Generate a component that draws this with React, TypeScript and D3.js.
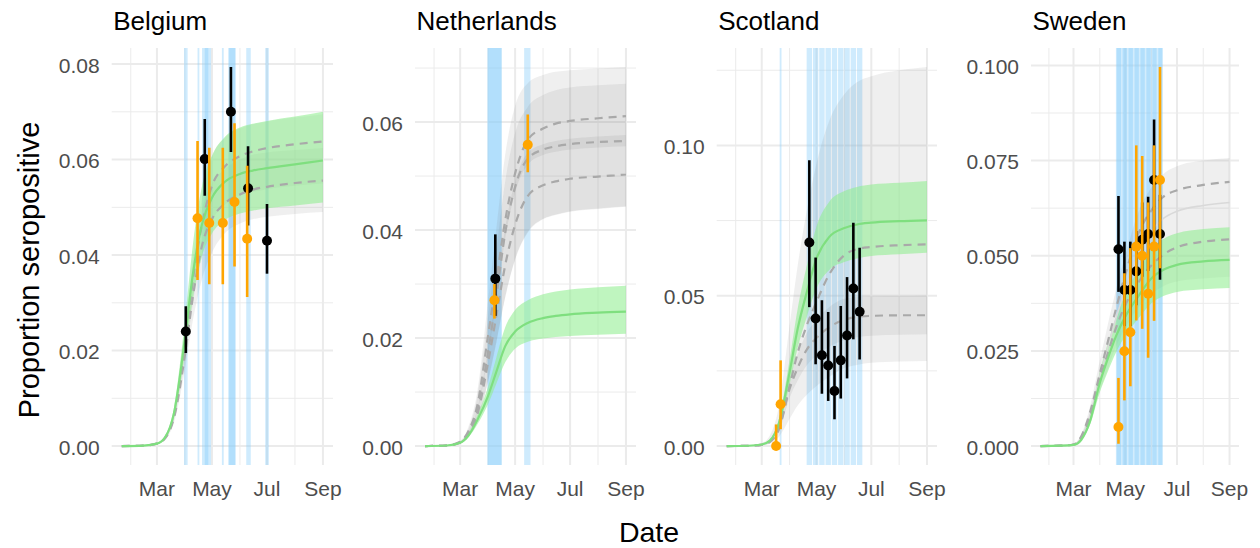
import React from "react";
import * as d3 from "d3";

// ---------- shared model time grid ----------
const modelDates = [
  "2020-01-22", "2020-02-15", "2020-03-01", "2020-03-10", "2020-03-20",
  "2020-04-01", "2020-04-10", "2020-04-20", "2020-05-01", "2020-05-15",
  "2020-06-01", "2020-06-15", "2020-07-01", "2020-08-01", "2020-09-01",
];

const monthTicks = ["2020-03-01", "2020-05-01", "2020-07-01", "2020-09-01"];
const monthTickLabels = ["Mar", "May", "Jul", "Sep"];
const monthMinor = ["2020-02-01", "2020-04-01", "2020-06-01", "2020-08-01"];

type Obs = { date: string; value: number; lo: number; hi: number };
type Band = [string, string];

// ---------- Belgium ----------
const belgiumBands: Band[] = [
  ["2020-03-31", "2020-04-04"], ["2020-04-15", "2020-04-17"],
  ["2020-04-20", "2020-04-27"], ["2020-04-23", "2020-04-30"],
  ["2020-05-12", "2020-05-14"], ["2020-05-19", "2020-05-27"],
  ["2020-05-20", "2020-05-27"], ["2020-06-08", "2020-06-13"],
  ["2020-06-29", "2020-07-03"],
];
const belgiumBlack: Obs[] = [
  { date: "2020-04-02", value: 0.0240, lo: 0.0195, hi: 0.0293 },
  { date: "2020-04-23", value: 0.0601, lo: 0.0524, hi: 0.0685 },
  { date: "2020-05-22", value: 0.0700, lo: 0.0616, hi: 0.0794 },
  { date: "2020-06-10", value: 0.0540, lo: 0.0462, hi: 0.0628 },
  { date: "2020-07-01", value: 0.0430, lo: 0.0361, hi: 0.0507 },
];
const belgiumOrange: Obs[] = [
  { date: "2020-04-15", value: 0.0477, lo: 0.0348, hi: 0.0639 },
  { date: "2020-04-28", value: 0.0467, lo: 0.0339, hi: 0.0625 },
  { date: "2020-05-13", value: 0.0467, lo: 0.0339, hi: 0.0625 },
  { date: "2020-05-26", value: 0.0511, lo: 0.0376, hi: 0.0676 },
  { date: "2020-06-09", value: 0.0434, lo: 0.0312, hi: 0.0587 },
];
const belgiumGreenMid = [0, 0.0001, 0.0005, 0.0018, 0.0070, 0.0225, 0.0362, 0.0465, 0.0520, 0.0553, 0.0570, 0.0577, 0.0582, 0.0590, 0.0598];
const belgiumGreenLo = [0, 0.0001, 0.0004, 0.0015, 0.0060, 0.0193, 0.0310, 0.0398, 0.0445, 0.0473, 0.0487, 0.0493, 0.0498, 0.0504, 0.0510];
const belgiumGreenHi = [0, 0.0001, 0.0006, 0.0021, 0.0082, 0.0263, 0.0424, 0.0545, 0.0608, 0.0647, 0.0667, 0.0675, 0.0681, 0.0690, 0.0700];
const belgiumAltAMid = [0, 0.0001, 0.0005, 0.0017, 0.0065, 0.0210, 0.0350, 0.0465, 0.0545, 0.0585, 0.0607, 0.0617, 0.0624, 0.0632, 0.0638];
const belgiumAltALo = [0, 0.0001, 0.0004, 0.0014, 0.0056, 0.0180, 0.0300, 0.0400, 0.0470, 0.0505, 0.0525, 0.0532, 0.0538, 0.0545, 0.0550];
const belgiumAltAHi = [0, 0.0001, 0.0006, 0.0020, 0.0074, 0.0240, 0.0395, 0.0520, 0.0605, 0.0645, 0.0665, 0.0674, 0.0680, 0.0688, 0.0695];
const belgiumAltBMid = [0, 0.0001, 0.0005, 0.0016, 0.0060, 0.0190, 0.0315, 0.0420, 0.0475, 0.0508, 0.0527, 0.0537, 0.0543, 0.0551, 0.0556];
const belgiumAltBLo = [0, 0.0001, 0.0004, 0.0013, 0.0050, 0.0160, 0.0265, 0.0350, 0.0405, 0.0445, 0.0466, 0.0475, 0.0480, 0.0486, 0.0490];
const belgiumAltBHi = [0, 0.0001, 0.0006, 0.0020, 0.0072, 0.0230, 0.0375, 0.0495, 0.0550, 0.0580, 0.0600, 0.0610, 0.0615, 0.0620, 0.0624];

// ---------- Netherlands ----------
const netherlandsBands: Band[] = [
  ["2020-03-31", "2020-04-16"], ["2020-04-01", "2020-04-16"],
  ["2020-05-11", "2020-05-18"],
];
const netherlandsBlack: Obs[] = [
  { date: "2020-04-09", value: 0.0310, lo: 0.0241, hi: 0.0392 },
];
const netherlandsOrange: Obs[] = [
  { date: "2020-04-08", value: 0.0270, lo: 0.0236, hi: 0.0300 },
  { date: "2020-05-15", value: 0.0558, lo: 0.0507, hi: 0.0614 },
];
const netherlandsGreenMid = [0, 0.0001, 0.0006, 0.0019, 0.0048, 0.0093, 0.0137, 0.0185, 0.0212, 0.0228, 0.0237, 0.0241, 0.0244, 0.0247, 0.0249];
const netherlandsGreenLo = [0, 0.0001, 0.0005, 0.0016, 0.0040, 0.0078, 0.0115, 0.0155, 0.0180, 0.0193, 0.0199, 0.0202, 0.0204, 0.0206, 0.0208];
const netherlandsGreenHi = [0, 0.0001, 0.0007, 0.0023, 0.0057, 0.0110, 0.0163, 0.0220, 0.0252, 0.0270, 0.0281, 0.0286, 0.0290, 0.0294, 0.0297];
const netherlandsAltAMid = [0, 0.0001, 0.0008, 0.0027, 0.0075, 0.0205, 0.0305, 0.0418, 0.0505, 0.0567, 0.0588, 0.0597, 0.0602, 0.0607, 0.0611];
const netherlandsAltALo = [0, 0.0001, 0.0005, 0.0017, 0.0045, 0.0120, 0.0190, 0.0275, 0.0345, 0.0395, 0.0420, 0.0428, 0.0434, 0.0439, 0.0443];
const netherlandsAltAHi = [0, 0.0002, 0.0010, 0.0035, 0.0100, 0.0270, 0.0400, 0.0540, 0.0630, 0.0672, 0.0687, 0.0693, 0.0696, 0.0699, 0.0702];
const netherlandsAltBMid = [0, 0.0001, 0.0007, 0.0024, 0.0065, 0.0175, 0.0275, 0.0395, 0.0480, 0.0532, 0.0549, 0.0555, 0.0559, 0.0563, 0.0565];
const netherlandsAltBLo = [0, 0.0001, 0.0007, 0.0023, 0.0063, 0.0169, 0.0267, 0.0385, 0.0470, 0.0521, 0.0539, 0.0545, 0.0549, 0.0553, 0.0555];
const netherlandsAltBHi = [0, 0.0001, 0.0007, 0.0025, 0.0067, 0.0181, 0.0283, 0.0405, 0.0490, 0.0543, 0.0559, 0.0565, 0.0569, 0.0573, 0.0576];
const netherlandsAltCMid = [0, 0.0001, 0.0006, 0.0021, 0.0058, 0.0155, 0.0240, 0.0335, 0.0410, 0.0463, 0.0483, 0.0490, 0.0495, 0.0499, 0.0503];
const netherlandsAltCLo = [0, 0.0001, 0.0005, 0.0017, 0.0046, 0.0122, 0.0192, 0.0277, 0.0347, 0.0397, 0.0421, 0.0429, 0.0435, 0.0440, 0.0444];
const netherlandsAltCHi = [0, 0.0002, 0.0009, 0.0030, 0.0090, 0.0240, 0.0360, 0.0490, 0.0580, 0.0628, 0.0650, 0.0659, 0.0664, 0.0668, 0.0671];

// ---------- Scotland ----------
const scotlandBands: Band[] = [
  ["2020-03-21", "2020-03-23"],
  ["2020-04-20", "2020-04-26"], ["2020-04-27", "2020-05-03"],
  ["2020-05-04", "2020-05-10"], ["2020-05-11", "2020-05-17"],
  ["2020-05-18", "2020-05-24"], ["2020-05-25", "2020-05-31"],
  ["2020-06-01", "2020-06-07"], ["2020-06-08", "2020-06-14"],
  ["2020-06-15", "2020-06-21"],
];
const scotlandBlack: Obs[] = [
  { date: "2020-04-23", value: 0.0677, lo: 0.0462, hi: 0.0951 },
  { date: "2020-04-30", value: 0.0424, lo: 0.0272, hi: 0.0627 },
  { date: "2020-05-07", value: 0.0302, lo: 0.0174, hi: 0.0485 },
  { date: "2020-05-14", value: 0.0268, lo: 0.0150, hi: 0.0446 },
  { date: "2020-05-21", value: 0.0183, lo: 0.0089, hi: 0.0333 },
  { date: "2020-05-28", value: 0.0285, lo: 0.0158, hi: 0.0466 },
  { date: "2020-06-04", value: 0.0368, lo: 0.0225, hi: 0.0562 },
  { date: "2020-06-11", value: 0.0524, lo: 0.0355, hi: 0.0743 },
  { date: "2020-06-18", value: 0.0447, lo: 0.0288, hi: 0.0660 },
];
const scotlandOrange: Obs[] = [
  { date: "2020-03-17", value: 0.0000, lo: 0.0000, hi: 0.0072 },
  { date: "2020-03-22", value: 0.0139, lo: 0.0056, hi: 0.0285 },
];
const scotlandGreenMid = [0, 0.0001, 0.0005, 0.0018, 0.0075, 0.0245, 0.0390, 0.0510, 0.0624, 0.0695, 0.0725, 0.0737, 0.0743, 0.0748, 0.0751];
const scotlandGreenLo = [0, 0.0001, 0.0004, 0.0015, 0.0063, 0.0205, 0.0327, 0.0428, 0.0525, 0.0585, 0.0612, 0.0624, 0.0632, 0.0638, 0.0643];
const scotlandGreenHi = [0, 0.0001, 0.0006, 0.0021, 0.0088, 0.0287, 0.0457, 0.0598, 0.0731, 0.0812, 0.0848, 0.0862, 0.0870, 0.0876, 0.0882];
const scotlandAltAMid = [0, 0.0001, 0.0004, 0.0015, 0.0060, 0.0200, 0.0310, 0.0400, 0.0480, 0.0570, 0.0635, 0.0655, 0.0662, 0.0668, 0.0671];
const scotlandAltALo = [0, 0.0001, 0.0002, 0.0008, 0.0030, 0.0090, 0.0135, 0.0170, 0.0200, 0.0230, 0.0260, 0.0270, 0.0277, 0.0281, 0.0283];
const scotlandAltAHi = [0, 0.0002, 0.0010, 0.0035, 0.0130, 0.0400, 0.0600, 0.0780, 0.0940, 0.1080, 0.1170, 0.1210, 0.1230, 0.1250, 0.1261];
const scotlandAltBMid = [0, 0.0001, 0.0004, 0.0014, 0.0055, 0.0190, 0.0260, 0.0320, 0.0360, 0.0395, 0.0420, 0.0430, 0.0433, 0.0435, 0.0435];
const scotlandAltBLo = [0, 0.0001, 0.0003, 0.0011, 0.0045, 0.0160, 0.0218, 0.0268, 0.0300, 0.0330, 0.0352, 0.0362, 0.0367, 0.0370, 0.0372];
const scotlandAltBHi = [0, 0.0001, 0.0005, 0.0018, 0.0068, 0.0225, 0.0305, 0.0375, 0.0420, 0.0462, 0.0490, 0.0496, 0.0498, 0.0499, 0.0500];

// ---------- Sweden ----------
const swedenBands: Band[] = [
  ["2020-04-20", "2020-04-26"], ["2020-04-27", "2020-05-03"],
  ["2020-05-04", "2020-05-10"], ["2020-05-11", "2020-05-17"],
  ["2020-05-18", "2020-05-24"], ["2020-05-25", "2020-05-31"],
  ["2020-06-01", "2020-06-07"], ["2020-06-08", "2020-06-14"],
  ["2020-04-21", "2020-04-27"], ["2020-04-28", "2020-05-04"],
  ["2020-05-05", "2020-05-11"], ["2020-05-12", "2020-05-18"],
  ["2020-05-19", "2020-05-25"], ["2020-05-26", "2020-06-01"],
  ["2020-06-02", "2020-06-08"], ["2020-06-09", "2020-06-14"],
];
const swedenBlack: Obs[] = [
  { date: "2020-04-23", value: 0.0517, lo: 0.0405, hi: 0.0657 },
  { date: "2020-04-30", value: 0.0410, lo: 0.0315, hi: 0.0537 },
  { date: "2020-05-07", value: 0.0410, lo: 0.0315, hi: 0.0537 },
  { date: "2020-05-14", value: 0.0459, lo: 0.0370, hi: 0.0565 },
  { date: "2020-05-21", value: 0.0542, lo: 0.0445, hi: 0.0640 },
  { date: "2020-05-28", value: 0.0557, lo: 0.0460, hi: 0.0655 },
  { date: "2020-06-04", value: 0.0699, lo: 0.0555, hi: 0.0858 },
  { date: "2020-06-11", value: 0.0557, lo: 0.0437, hi: 0.0660 },
];
const swedenOrange: Obs[] = [
  { date: "2020-04-23", value: 0.0050, lo: 0.0006, hi: 0.0179 },
  { date: "2020-04-30", value: 0.0249, lo: 0.0120, hi: 0.0454 },
  { date: "2020-05-07", value: 0.0299, lo: 0.0157, hi: 0.0520 },
  { date: "2020-05-14", value: 0.0524, lo: 0.0330, hi: 0.0790 },
  { date: "2020-05-21", value: 0.0500, lo: 0.0308, hi: 0.0762 },
  { date: "2020-05-28", value: 0.0400, lo: 0.0232, hi: 0.0640 },
  { date: "2020-06-04", value: 0.0524, lo: 0.0329, hi: 0.0790 },
  { date: "2020-06-11", value: 0.0699, lo: 0.0467, hi: 0.0996 },
];
const swedenGreenMid = [0, 0.0001, 0.0003, 0.0016, 0.0062, 0.0166, 0.0227, 0.0288, 0.0340, 0.0389, 0.0441, 0.0463, 0.0476, 0.0485, 0.0489];
const swedenGreenLo = [0, 0.0001, 0.0003, 0.0014, 0.0053, 0.0141, 0.0193, 0.0245, 0.0289, 0.0331, 0.0375, 0.0394, 0.0405, 0.0412, 0.0415];
const swedenGreenHi = [0, 0.0001, 0.0004, 0.0019, 0.0073, 0.0195, 0.0267, 0.0338, 0.0400, 0.0457, 0.0518, 0.0544, 0.0559, 0.0570, 0.0575];
const swedenAltAMid = [0, 0.0001, 0.0004, 0.0025, 0.0085, 0.0190, 0.0270, 0.0360, 0.0450, 0.0550, 0.0620, 0.0655, 0.0672, 0.0686, 0.0694];
const swedenAltSolid = [0, 0.0001, 0.0004, 0.0022, 0.0078, 0.0183, 0.0255, 0.0335, 0.0410, 0.0495, 0.0565, 0.0598, 0.0617, 0.0632, 0.0640];
const swedenAltBMid = [0, 0.0001, 0.0004, 0.0020, 0.0072, 0.0175, 0.0240, 0.0310, 0.0370, 0.0425, 0.0475, 0.0503, 0.0522, 0.0537, 0.0543];
const swedenAltLo = [0, 0.0001, 0.0003, 0.0017, 0.0060, 0.0145, 0.0200, 0.0260, 0.0310, 0.0360, 0.0400, 0.0420, 0.0432, 0.0440, 0.0445];
const swedenAltHi = [0, 0.0001, 0.0005, 0.0030, 0.0100, 0.0225, 0.0315, 0.0410, 0.0500, 0.0605, 0.0680, 0.0715, 0.0735, 0.0750, 0.0757];

// ---------- panel definitions ----------
type Ribbon = { lo: number[]; hi: number[] };
type Curve = { values: number[]; dashed: boolean };
type PanelSpec = {
  title: string;
  bands: Band[];
  black: Obs[];
  orange: Obs[];
  greyRibbons: Ribbon[];
  greyLines: Curve[];
  green: { mid: number[]; lo: number[]; hi: number[] };
  yTicks: number[];
  yMinor: number[];
  yFormat: string;
};

const panels: PanelSpec[] = [
  {
    title: "Belgium",
    bands: belgiumBands,
    black: belgiumBlack,
    orange: belgiumOrange,
    greyRibbons: [
      { lo: belgiumAltALo, hi: belgiumAltAHi },
      { lo: belgiumAltBLo, hi: belgiumAltBHi },
    ],
    greyLines: [
      { values: belgiumAltAMid, dashed: true },
      { values: belgiumAltBMid, dashed: true },
    ],
    green: { mid: belgiumGreenMid, lo: belgiumGreenLo, hi: belgiumGreenHi },
    yTicks: [0, 0.02, 0.04, 0.06, 0.08],
    yMinor: [0.01, 0.03, 0.05, 0.07],
    yFormat: ".2f",
  },
  {
    title: "Netherlands",
    bands: netherlandsBands,
    black: netherlandsBlack,
    orange: netherlandsOrange,
    greyRibbons: [
      { lo: netherlandsAltALo, hi: netherlandsAltAHi },
      { lo: netherlandsAltBLo, hi: netherlandsAltBHi },
      { lo: netherlandsAltCLo, hi: netherlandsAltCHi },
    ],
    greyLines: [
      { values: netherlandsAltAMid, dashed: true },
      { values: netherlandsAltBMid, dashed: true },
      { values: netherlandsAltCMid, dashed: true },
    ],
    green: { mid: netherlandsGreenMid, lo: netherlandsGreenLo, hi: netherlandsGreenHi },
    yTicks: [0, 0.02, 0.04, 0.06],
    yMinor: [0.01, 0.03, 0.05, 0.07],
    yFormat: ".2f",
  },
  {
    title: "Scotland",
    bands: scotlandBands,
    black: scotlandBlack,
    orange: scotlandOrange,
    greyRibbons: [
      { lo: scotlandAltALo, hi: scotlandAltAHi },
      { lo: scotlandAltBLo, hi: scotlandAltBHi },
    ],
    greyLines: [
      { values: scotlandAltAMid, dashed: true },
      { values: scotlandAltBMid, dashed: true },
    ],
    green: { mid: scotlandGreenMid, lo: scotlandGreenLo, hi: scotlandGreenHi },
    yTicks: [0, 0.05, 0.1],
    yMinor: [0.025, 0.075, 0.125],
    yFormat: ".2f",
  },
  {
    title: "Sweden",
    bands: swedenBands,
    black: swedenBlack,
    orange: swedenOrange,
    greyRibbons: [{ lo: swedenAltLo, hi: swedenAltHi }],
    greyLines: [
      { values: swedenAltSolid, dashed: false },
      { values: swedenAltAMid, dashed: true },
      { values: swedenAltBMid, dashed: true },
    ],
    green: { mid: swedenGreenMid, lo: swedenGreenLo, hi: swedenGreenHi },
    yTicks: [0, 0.025, 0.05, 0.075, 0.1],
    yMinor: [0.0125, 0.0375, 0.0625, 0.0875],
    yFormat: ".3f",
  },
];

// ---------- layout ----------
const WIDTH = 1260;
const HEIGHT = 548;
const PANEL_TOP = 48;
const PANEL_BOTTOM = 465;
const panelExtents: [number, number][] = [
  [111.7, 333],
  [415, 636],
  [716.7, 937],
  [1031, 1239],
];
const FONT = "'Liberation Sans', Arial, Helvetica, sans-serif";
const BAND_FILL = "#87CEFA";
const GREEN_FILL = "#90EE90";
const GREEN_LINE = "#7FDF7F";
const GREY_FILL = "#7F7F7F";
const GREY_LINE = "#A9A9A9";
const ORANGE = "#FFA500";

const parse = d3.utcParse("%Y-%m-%d");
const toDate = (s: string) => parse(s) as Date;

function Panel({ spec, extent, index }: { spec: PanelSpec; extent: [number, number]; index: number }) {
  const [x0, x1] = extent;
  const dates = modelDates.map(toDate);

  // date axis with 5% expansion around the model period
  const t0 = +dates[0];
  const t1 = +dates[dates.length - 1];
  const pad = (t1 - t0) * 0.05;
  const xs = d3.scaleUtc().domain([new Date(t0 - pad), new Date(t1 + pad)]).range([x0, x1]);

  const allValues = [
    ...spec.black.map((d) => d.hi),
    ...spec.orange.map((d) => d.hi),
    ...spec.green.hi,
    ...spec.greyRibbons.flatMap((r) => r.hi),
    ...spec.greyLines.flatMap((l) => l.values),
  ];
  const yMax = d3.max(allValues) as number;
  const ys = d3
    .scaleLinear()
    .domain([-0.05 * yMax, 1.05 * yMax])
    .range([PANEL_BOTTOM, PANEL_TOP]);
  const [yLo, yHi] = ys.domain();

  const ribbon = (lo: number[], hi: number[]) =>
    d3
      .area<number>()
      .x((_, i) => xs(dates[i]))
      .y0((_, i) => ys(lo[i]))
      .y1((_, i) => ys(hi[i]))
      .curve(d3.curveMonotoneX)(lo) as string;
  const line = (v: number[]) =>
    d3
      .line<number>()
      .x((_, i) => xs(dates[i]))
      .y((d) => ys(d))
      .curve(d3.curveMonotoneX)(v) as string;

  const fmt = d3.format(spec.yFormat);
  const clipId = `panel-clip-${index}`;

  const pointRange = (d: Obs, color: string, key: string) => {
    const cx = xs(toDate(d.date));
    return (
      <g key={key}>
        <line x1={cx} x2={cx} y1={ys(d.lo)} y2={ys(d.hi)} stroke={color} strokeWidth={2.6} />
        <circle cx={cx} cy={ys(d.value)} r={5} fill={color} />
      </g>
    );
  };

  return (
    <g>
      <defs>
        <clipPath id={clipId}>
          <rect x={x0} y={PANEL_TOP} width={x1 - x0} height={PANEL_BOTTOM - PANEL_TOP} />
        </clipPath>
      </defs>

      {/* grid */}
      <g>
        {spec.yMinor
          .filter((v) => v > yLo && v < yHi)
          .map((v) => (
            <line key={`ym${v}`} x1={x0} x2={x1} y1={ys(v)} y2={ys(v)} stroke="#EBEBEB" strokeWidth={1} />
          ))}
        {monthMinor.map((m) => (
          <line key={`xm${m}`} x1={xs(toDate(m))} x2={xs(toDate(m))} y1={PANEL_TOP} y2={PANEL_BOTTOM} stroke="#EBEBEB" strokeWidth={1} />
        ))}
        {spec.yTicks.map((v) => (
          <line key={`y${v}`} x1={x0} x2={x1} y1={ys(v)} y2={ys(v)} stroke="#EBEBEB" strokeWidth={2} />
        ))}
        {monthTicks.map((m) => (
          <line key={`x${m}`} x1={xs(toDate(m))} x2={xs(toDate(m))} y1={PANEL_TOP} y2={PANEL_BOTTOM} stroke="#EBEBEB" strokeWidth={2} />
        ))}
      </g>

      <g clipPath={`url(#${clipId})`}>
        {/* sampling windows */}
        {spec.bands.map(([s, e], i) => (
          <rect
            key={`b${i}`}
            x={xs(toDate(s))}
            width={xs(toDate(e)) - xs(toDate(s))}
            y={PANEL_TOP}
            height={PANEL_BOTTOM - PANEL_TOP}
            fill={BAND_FILL}
            fillOpacity={0.4}
          />
        ))}

        {/* alternative model fits */}
        {spec.greyRibbons.map((r, i) => (
          <path key={`gr${i}`} d={ribbon(r.lo, r.hi)} fill={GREY_FILL} fillOpacity={0.12} />
        ))}

        {/* main model fit */}
        <path d={ribbon(spec.green.lo, spec.green.hi)} fill={GREEN_FILL} fillOpacity={0.58} />

        {spec.greyLines.map((l, i) => (
          <path
            key={`gl${i}`}
            d={line(l.values)}
            fill="none"
            stroke={l.dashed ? GREY_LINE : "#D9D9D9"}
            strokeWidth={l.dashed ? 2.2 : 1.6}
            strokeDasharray={l.dashed ? "8 6" : undefined}
          />
        ))}
        <path d={line(spec.green.mid)} fill="none" stroke={GREEN_LINE} strokeWidth={2.2} />

        {/* survey estimates */}
        {spec.black.map((d, i) => pointRange(d, "#000000", `k${i}`))}
        {spec.orange.map((d, i) => pointRange(d, ORANGE, `o${i}`))}
      </g>

      {/* axes labels */}
      {spec.yTicks.map((v) => (
        <text
          key={`yl${v}`}
          x={x0 - 12}
          y={ys(v) + 8.5}
          textAnchor="end"
          fontSize={21}
          fill="#4D4D4D"
        >
          {fmt(v)}
        </text>
      ))}
      {monthTicks.map((m, i) => (
        <text key={`xl${m}`} x={xs(toDate(m))} y={496} textAnchor="middle" fontSize={21} fill="#4D4D4D">
          {monthTickLabels[i]}
        </text>
      ))}

      <text x={x0 + 1.5} y={30} fontSize={26} fill="#000000">
        {spec.title}
      </text>
    </g>
  );
}

export default function App() {
  return (
    <svg
      width={WIDTH}
      height={HEIGHT}
      style={{ position: "absolute", left: 0, top: 0, display: "block" }}
      fontFamily={FONT}
    >
      <rect x={0} y={0} width={WIDTH} height={HEIGHT} fill="#FFFFFF" />
      {panels.map((p, i) => (
        <Panel key={p.title} spec={p} extent={panelExtents[i]} index={i} />
      ))}
      <text transform="translate(39,270) rotate(-90)" textAnchor="middle" fontSize={29} fill="#000000">
        Proportion seropositive
      </text>
      <text x={649} y={542} textAnchor="middle" fontSize={28.5} fill="#000000">
        Date
      </text>
    </svg>
  );
}
